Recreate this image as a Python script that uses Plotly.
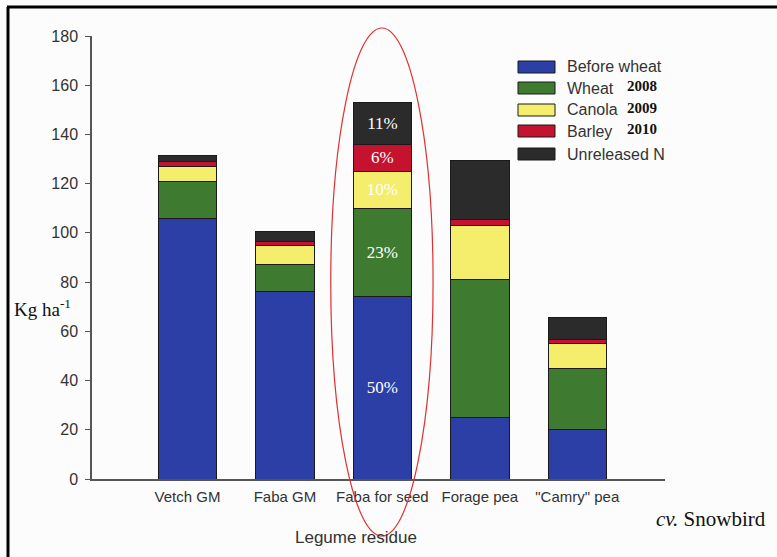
import plotly.graph_objects as go

residues = ["Vetch GM", "Faba GM", "Faba for seed", "Forage pea", "\"Camry\" pea"]
series_names = ["Before wheat", "Wheat", "Canola", "Barley", "Unreleased N"]
series_years = ["", "2008", "2009", "2010", ""]

before_wheat = [106, 76, 74, 25, 20]
wheat = [15, 11, 36, 56, 25]
canola = [6, 8, 15, 22, 10]
barley = [2, 1.5, 11, 2.5, 1.5]
unreleased = [2.5, 4, 17, 24, 9]

# percent labels shown only on the "Faba for seed" bar
pct_before = ["", "", "50%", "", ""]
pct_wheat = ["", "", "23%", "", ""]
pct_canola = ["", "", "10%", "", ""]
pct_barley = ["", "", "6%", "", ""]
pct_unrel = ["", "", "11%", "", ""]

colors = ["#2b3fa6", "#3f7a31", "#f4ee6c", "#c4122f", "#2b2b2b"]

fig = go.Figure()
for name, vals, txt, col in zip(series_names,
                                [before_wheat, wheat, canola, barley, unreleased],
                                [pct_before, pct_wheat, pct_canola, pct_barley, pct_unrel],
                                colors):
    fig.add_trace(go.Bar(x=residues, y=vals, name=name, marker_color=col,
                         marker_line=dict(color="#1a1a1a", width=1),
                         text=txt, textposition="inside", insidetextanchor="middle",
                         textfont=dict(family="Liberation Serif", size=17, color="white"),
                         showlegend=False, hoverinfo="skip"))

fig.update_layout(barmode="stack", bargap=0.4, width=777, height=557,
                  margin=dict(l=92, r=112, t=36, b=78),
                  paper_bgcolor="#fcfcfc", plot_bgcolor="#fcfcfc",
                  font=dict(family="Liberation Sans", color="#333333"),
                  uniformtext=dict(mode="show", minsize=10))
fig.update_xaxes(range=[-0.98, 4.9], showline=True, linecolor="#555555", linewidth=1.5,
                 ticks="", tickfont=dict(size=15, color="#333333"), showgrid=False,
                 ticklabelstandoff=3)
fig.update_yaxes(range=[0, 180], dtick=20, showline=True, linecolor="#555555", linewidth=1.5,
                 ticks="outside", ticklen=5, tickcolor="#555555", showgrid=False, zeroline=False,
                 tickfont=dict(size=16, color="#333333"), ticklabelstandoff=4)

# manual legend: boxes and labels in paper coordinates
plot_w, plot_h = 573, 443
def px_x(px):
    return (px - 92) / plot_w
def px_y(py):
    return (479 - py) / plot_h

leg_y = [67, 88, 110, 131, 154]
for name, yr, col, yy in zip(series_names, series_years, colors, leg_y):
    fig.add_shape(type="rect", xref="paper", yref="paper",
                  x0=px_x(518), x1=px_x(555), y0=px_y(yy + 6), y1=px_y(yy - 6),
                  fillcolor=col, line=dict(color="#1a1a1a", width=1))
    fig.add_annotation(xref="paper", yref="paper", x=px_x(565), y=px_y(yy),
                       text=name, showarrow=False, xanchor="left", yanchor="middle",
                       font=dict(family="Liberation Sans", size=16, color="#333333"))
    if yr:
        fig.add_annotation(xref="paper", yref="paper", x=px_x(625), y=px_y(yy - 2),
                           text="<b>" + yr + "</b>", showarrow=False, xanchor="left",
                           yanchor="middle",
                           font=dict(family="Liberation Serif", size=15, color="#111111"))

# red ellipse around "Faba for seed"
fig.add_shape(type="circle", xref="x", yref="paper", x0=1.47, x1=2.52,
              y0=px_y(536), y1=px_y(28), line=dict(color="#e03030", width=1.2))

fig.add_annotation(xref="paper", yref="paper", x=px_x(12), y=px_y(308),
                   text="Kg ha<sup>-1</sup>", showarrow=False, xanchor="left", yanchor="middle",
                   font=dict(family="Liberation Serif", size=19, color="#111111"))
fig.add_annotation(xref="paper", yref="paper", x=px_x(356), y=px_y(537),
                   text="Legume residue", showarrow=False, xanchor="center", yanchor="middle",
                   font=dict(family="Liberation Sans", size=17, color="#333333"))
fig.add_annotation(xref="paper", yref="paper", x=px_x(768), y=px_y(519),
                   text="<i>cv.</i> Snowbird", showarrow=False, xanchor="right", yanchor="middle",
                   font=dict(family="Liberation Serif", size=21, color="#111111"))

# frame lines at the top and left of the page
fig.add_shape(type="line", xref="paper", yref="paper", x0=px_x(7), x1=px_x(777),
              y0=px_y(7), y1=px_y(7), line=dict(color="black", width=3))
fig.add_shape(type="line", xref="paper", yref="paper", x0=px_x(8), x1=px_x(8),
              y0=px_y(7), y1=px_y(557), line=dict(color="black", width=3))

fig.write_html("out.html", config={"displayModeBar": False},
               post_script="document.body.style.margin='0';")
